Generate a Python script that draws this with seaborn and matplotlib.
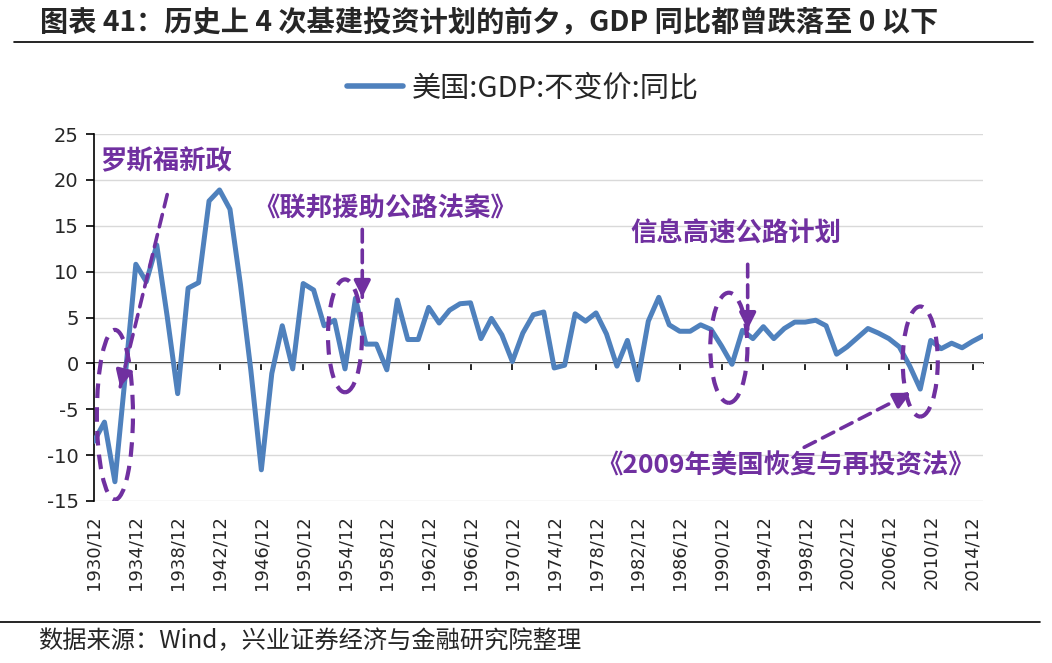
import numpy as np
import pandas as pd
import matplotlib
matplotlib.use('Agg')
import matplotlib.pyplot as plt
from matplotlib.lines import Line2D
from matplotlib.patches import Ellipse
import seaborn as sns

years = list(range(1930, 2016))
gdp_yoy = [
    -8.5, -6.4, -12.9, -1.2, 10.8, 8.9, 12.9, 5.1, -3.3, 8.2,     # 1930-1939
    8.8, 17.7, 18.9, 16.8, 8.6, -0.8, -11.6, -1.1, 4.1, -0.6,     # 1940-1949
    8.7, 8.0, 4.1, 4.7, -0.6, 7.1, 2.1, 2.1, -0.7, 6.9,           # 1950-1959
    2.6, 2.6, 6.1, 4.4, 5.8, 6.5, 6.6, 2.7, 4.9, 3.1,             # 1960-1969
    0.2, 3.3, 5.3, 5.6, -0.5, -0.2, 5.4, 4.6, 5.5, 3.2,           # 1970-1979
    -0.3, 2.5, -1.8, 4.6, 7.2, 4.2, 3.5, 3.5, 4.2, 3.7,           # 1980-1989
    1.9, -0.1, 3.6, 2.7, 4.0, 2.7, 3.8, 4.5, 4.5, 4.7,            # 1990-1999
    4.1, 1.0, 1.8, 2.8, 3.8, 3.3, 2.7, 1.8, -0.3, -2.8,           # 2000-2009
    2.5, 1.6, 2.2, 1.7, 2.4, 3.0,                                 # 2010-2015
]
tick_years = list(range(1930, 2015, 4))
tick_labels = [f"{y}/12" for y in tick_years]
y_ticks = [-15, -10, -5, 0, 5, 10, 15, 20, 25]
series_name = "美国:GDP:不变价:同比"

title = "图表 41：历史上 4 次基建投资计划的前夕，GDP 同比都曾跌落至 0 以下"
source = "数据来源：Wind，兴业证券经济与金融研究院整理"

BLUE = "#4F81BD"
PURPLE = "#7030A0"

sns.set_style("white")
plt.rcParams['font.family'] = ['Noto Sans CJK SC', 'DejaVu Sans']
plt.rcParams['axes.unicode_minus'] = False

df = pd.DataFrame({"year": years, "gdp": gdp_yoy})

fig = plt.figure(figsize=(10.52, 6.63), dpi=100)
ax = fig.add_axes([94 / 1052, 1 - 501 / 663, 889 / 1052, 367 / 663])

sns.lineplot(data=df, x="year", y="gdp", color=BLUE, linewidth=3.6,
             ax=ax, label=series_name, legend=False,
             solid_joinstyle='round', solid_capstyle='round', zorder=3)

ax.set_xlim(1930, 2015)
ax.set_ylim(-15, 25)
ax.set_yticks(y_ticks)
ax.set_xticks(tick_years)
ax.set_xticklabels(tick_labels, rotation=90)
ax.set_xlabel("")
ax.set_ylabel("")

ax.grid(axis='y', color='#D9D9D9', linewidth=1.0)
ax.grid(axis='x', visible=False)
for s in ['top', 'right', 'bottom']:
    ax.spines[s].set_visible(False)
ax.spines['left'].set_color('black')
ax.spines['left'].set_linewidth(1.2)
ax.tick_params(axis='y', direction='out', length=6, width=1.2, color='black',
               labelsize=14, left=True, pad=5)
ax.tick_params(axis='x', length=0, labelsize=13, pad=10)
for lab in ax.get_xticklabels() + ax.get_yticklabels():
    lab.set_fontfamily('DejaVu Sans')

# category axis crossing at zero
zero_frac = (0 - (-15)) / 40
sec = ax.secondary_xaxis(zero_frac)
sec.set_xticks(tick_years)
sec.set_xticklabels([])
sec.tick_params(direction='out', length=5, width=1.2, color='black')
sec.spines['bottom'].set_color('black')
sec.spines['bottom'].set_linewidth(1.2)

# legend on top
handle = Line2D([], [], color=BLUE, linewidth=4)
fig.legend([handle], [series_name], loc='center', bbox_to_anchor=(0.497, 1 - 88 / 663),
           frameon=False, fontsize=21, handlelength=1.9, handletextpad=0.3)

# annotations
dash = (0, (3.5, 2.2))
ell_specs = [
    ((1932.0, -5.6), 3.45, 18.5),
    ((1954.0, 3.0), 3.25, 12.3),
    ((1990.7, 1.7), 3.55, 12.0),
    ((2009.0, 0.2), 3.35, 12.0),
]
for c, w, h in ell_specs:
    ax.add_patch(Ellipse(c, w, h, fill=False, edgecolor=PURPLE, linewidth=3,
                         linestyle=dash, zorder=4))


def dashed_arrow(start, end):
    ax.annotate('', xy=end, xytext=start,
                arrowprops=dict(arrowstyle='-', color=PURPLE, lw=2.6, linestyle=dash,
                                shrinkA=0, shrinkB=0), zorder=5)
    p0 = ax.transData.transform(start)
    p1 = ax.transData.transform(end)
    d = (p1 - p0) / np.hypot(*(p1 - p0))
    hs = ax.transData.inverted().transform(p1 - d * 14)
    ax.annotate('', xy=end, xytext=tuple(hs),
                arrowprops=dict(arrowstyle='-|>,head_length=0.7,head_width=0.35',
                                color=PURPLE, lw=2.6, mutation_scale=14,
                                shrinkA=0, shrinkB=0), zorder=5)


dashed_arrow((1937.0, 18.4), (1932.5, -2.6))
dashed_arrow((1955.65, 14.6), (1955.65, 7.2))
dashed_arrow((1992.5, 10.8), (1992.5, 3.7))
dashed_arrow((1997.9, -9.15), (2008.1, -3.2))

txt_kw = dict(color=PURPLE, fontsize=19, fontweight='bold', va='center', zorder=6)
ax.text(1930.6, 22.0, "罗斯福新政", ha='left', **txt_kw)
ax.text(1957.85, 16.8, "《联邦援助公路法案》", ha='center', **txt_kw)
ax.text(1991.4, 14.05, "信息高速公路计划", ha='center', **txt_kw)
ax.text(1996.1, -11.2, "《2009年美国恢复与再投资法》", ha='center', **txt_kw)

# title, source and rules
fig.text(40 / 1052, 1 - 23 / 663, title, fontsize=20.3, fontweight='bold', va='center')
fig.add_artist(Line2D([14 / 1052, 1033 / 1052], [1 - 42 / 663, 1 - 42 / 663],
                      color='black', linewidth=1.2))
fig.add_artist(Line2D([0, 1040 / 1052], [1 - 622 / 663, 1 - 622 / 663],
                      color='black', linewidth=1.2))
fig.text(38 / 1052, 1 - 641 / 663, source, fontsize=17.5, va='center')

fig.savefig("out.png", dpi=100)
